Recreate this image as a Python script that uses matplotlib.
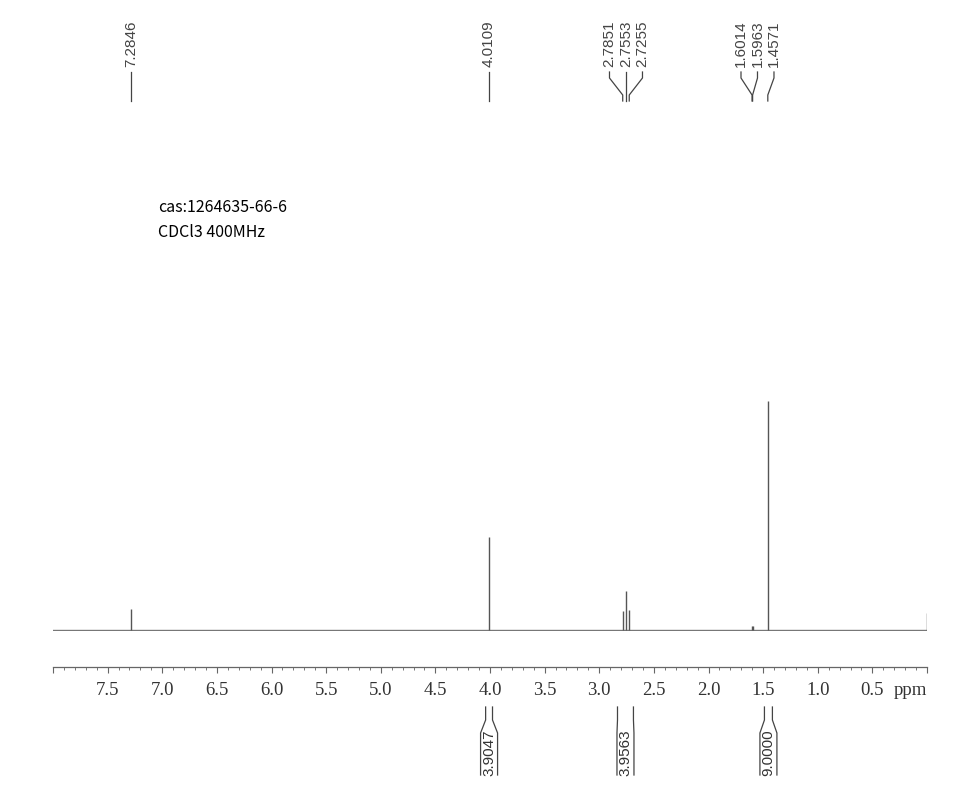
import numpy as np
import matplotlib
matplotlib.use('Agg')
import matplotlib.pyplot as plt
from matplotlib.ticker import MultipleLocator
from matplotlib.transforms import blended_transform_factory

# peak list (ppm) and relative heights (tallest peak = 100)
peak_ppm = [7.2846, 4.0109, 2.7851, 2.7553, 2.7255, 1.6014, 1.5963, 1.4571, 0.0]
peak_height = [9.2, 40.6, 8.3, 17.0, 8.7, 1.8, 1.6, 100.0, 7.4]

# peak labels printed on top, grouped like the printout
label_groups = [[7.2846], [4.0109], [2.7851, 2.7553, 2.7255], [1.6014, 1.5963, 1.4571]]

# integrals: region (ppm) and printed value
integral_ranges = [(4.040, 3.977), (2.833, 2.687), (1.488, 1.415)]
integral_values = ['3.9047', '3.9563', '9.0000']

tick_labels = ['', '7.5', '7.0', '6.5', '6.0', '5.5', '5.0', '4.5', '4.0',
               '3.5', '3.0', '2.5', '2.0', '1.5', '1.0', '0.5', '']
info_lines = ['cas:1264635-66-6', 'CDCl3 400MHz']

W, H = 977, 799
PX_PER_PPM = 109.3
PT = 72 / 100  # points per pixel at 100 dpi


def fy(px):
    # pixel row from the top -> figure fraction
    return 1 - px / H


plt.rcParams['font.family'] = ['Liberation Sans', 'DejaVu Sans']

fig = plt.figure(figsize=(W / 100, H / 100), dpi=100)
ax = fig.add_axes([53 / W, fy(631), (927 - 53) / W, (631 - 104) / H])
ax.set_xlim(8.0, 0.0)
ax.set_ylim(-0.5, 229.5)

# spectrum: baseline + peaks
ax.axhline(0, color='#777777', lw=1.0)
ax.vlines(peak_ppm, 0, peak_height, color='#555555', lw=1.0)

# scale
for s in ['top', 'left', 'right']:
    ax.spines[s].set_visible(False)
ax.spines['bottom'].set_position(('outward', 36 * PT))
ax.spines['bottom'].set_color('#666666')
ax.spines['bottom'].set_linewidth(0.9)
ax.set_yticks([])
ax.set_xticks(np.arange(8.0, -0.01, -0.5), tick_labels)
ax.xaxis.set_minor_locator(MultipleLocator(0.1))
ax.tick_params(axis='x', which='major', direction='out', length=6 * PT, width=0.8,
               color='#666666', pad=9 * PT, labelsize=13.5, labelcolor='#333333')
ax.tick_params(axis='x', which='minor', direction='out', length=3 * PT, width=0.7,
               color='#777777')
for lbl in ax.get_xticklabels():
    lbl.set_fontfamily('Liberation Serif')

trans = blended_transform_factory(ax.transData, fig.transFigure)
ax.text(0.0, fy(695), 'ppm', transform=trans, ha='right', va='baseline',
        fontsize=13.5, family='Liberation Serif', color='#333333')

# peak labels with connectors
gap = 16.5 / PX_PER_PPM
for group in label_groups:
    n = len(group)
    mid = sum(group) / n
    for i, p in enumerate(group):
        lx = mid + (n - 1) / 2 * gap - i * gap
        ax.plot([lx, lx, p, p], [fy(72), fy(78), fy(95), fy(101)], transform=trans,
                clip_on=False, color='#444444', lw=0.9)
        ax.text(lx, fy(67), f'{p:.4f}', transform=trans, rotation=90,
                ha='center', va='bottom', fontsize=11, color='#444444')

# integral brackets below the scale
half_min = 8.5 / PX_PER_PPM
for (a, b), val in zip(integral_ranges, integral_values):
    c = (a + b) / 2
    h = abs(a - b) / 2
    w = max(h, half_min)
    for sgn in (1, -1):
        ax.plot([c + sgn * h, c + sgn * h, c + sgn * w, c + sgn * w],
                [fy(707), fy(720), fy(733), fy(775)], transform=trans,
                clip_on=False, color='#444444', lw=0.9)
    ax.text(c, fy(753), val, transform=trans, rotation=90, ha='center',
            va='center', fontsize=11, color='#333333')

# sample info
for k, line in enumerate(info_lines):
    fig.text(158 / W, fy(212 + 25 * k), line, ha='left', va='baseline',
             fontsize=11.5, family=['Noto Sans CJK SC', 'DejaVu Sans'], color='black')

fig.savefig('out.png', dpi=100)
